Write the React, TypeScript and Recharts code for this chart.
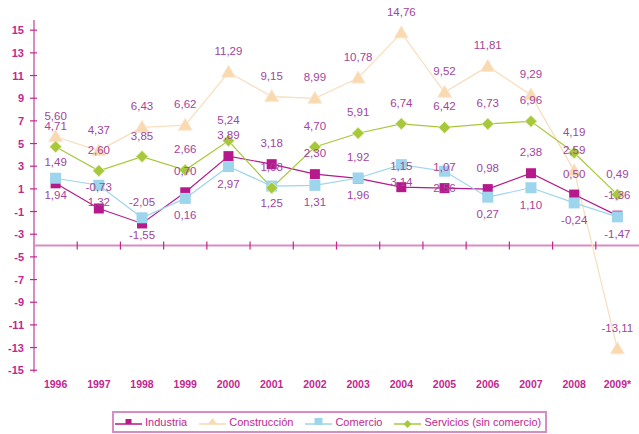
import React from 'react';
import { LineChart, Line, XAxis, YAxis, ReferenceLine, LabelList, Legend } from 'recharts';

const years = ['1996', '1997', '1998', '1999', '2000', '2001', '2002', '2003', '2004', '2005', '2006', '2007', '2008', '2009*'];
const industria = [1.49, -0.73, -2.05, 0.7, 3.89, 3.18, 2.3, 1.92, 1.15, 1.07, 0.98, 2.38, 0.5, -1.36];
const construccion = [5.6, 4.37, 6.43, 6.62, 11.29, 9.15, 8.99, 10.78, 14.76, 9.52, 11.81, 9.29, 2.59, -13.11];
const comercio = [1.94, 1.32, -1.55, 0.16, 2.97, 1.25, 1.31, 1.96, 3.14, 2.56, 0.27, 1.1, -0.24, -1.47];
const servicios = [4.71, 2.6, 3.85, 2.66, 5.24, 1.08, 4.7, 5.91, 6.74, 6.42, 6.73, 6.96, 4.19, 0.49];
const yTicks = [15, 13, 11, 9, 7, 5, 3, 1, -1, -3, -5, -7, -9, -11, -13, -15];
const crossAt = -4;

const data = years.map((y, i) => ({
  year: y,
  industria: industria[i],
  construccion: construccion[i],
  comercio: comercio[i],
  servicios: servicios[i],
}));

// category boundaries (edges between years) for the ticks on the crossing axis
const boundaryData = [...years, 'end'].map((_, k) => ({ b: `b${k}`, v: crossAt }));

const C_IND = '#b5198b';
const C_CON = '#f8d9b0';
const C_CONL = '#f9dfc0';
const C_COM = '#9dd5ec';
const C_SER = '#a8c83c';
const C_AXIS = '#c2278f';
const C_AXLINE = '#d98bc5';
const C_LABEL = '#a2459c';
const FONT = '"Liberation Sans", Arial, sans-serif';

const fmt = (v: number) => v.toFixed(2).replace('.', ',');

const squareDot = (size: number, color: string) => (p: any) => (
  <rect key={`d${p.index}`} x={p.cx - size / 2} y={p.cy - size / 2} width={size} height={size} fill={color} />
);
const triDot = (p: any) => (
  <path
    key={`t${p.index}`}
    d={`M${p.cx},${p.cy - 7} L${p.cx + 7},${p.cy + 5} L${p.cx - 7},${p.cy + 5} Z`}
    fill={C_CON}
    stroke="#fbe8d2"
    strokeWidth={1}
  />
);
const diaDot = (p: any) => (
  <path
    key={`m${p.index}`}
    d={`M${p.cx},${p.cy - 6} L${p.cx + 6},${p.cy} L${p.cx},${p.cy + 6} L${p.cx - 6},${p.cy} Z`}
    fill={C_SER}
    stroke="#e4efc0"
    strokeWidth={0.8}
  />
);
const tickDot = (p: any) => {
  if (p.index === 0 || p.index === boundaryData.length - 1) return <g key={`x${p.index}`} />;
  return <line key={`x${p.index}`} x1={p.cx} x2={p.cx} y1={p.cy - 4} y2={p.cy + 4} stroke={C_AXIS} strokeWidth={1.2} />;
};

const makeLabel = (offset: number) => (p: any) => (
  <text
    key={`l${p.index}`}
    x={p.x}
    y={p.y + offset}
    textAnchor="middle"
    dominantBaseline="central"
    fill={C_LABEL}
    fontSize={11.5}
    fontFamily={FONT}
  >
    {fmt(p.value)}
  </text>
);

const YTick = (p: any) => (
  <g>
    <line x1={p.x + 6} x2={p.x + 13} y1={p.y} y2={p.y} stroke={C_AXIS} strokeWidth={1.2} />
    <text x={p.x} y={p.y} textAnchor="end" dominantBaseline="central" fill={C_AXIS} fontSize={11} fontWeight="bold" fontFamily={FONT}>
      {p.payload.value}
    </text>
  </g>
);

const legendItems = [
  { name: 'Industria', color: C_IND, shape: 'sq' },
  { name: 'Construcción', color: C_CON, shape: 'tri' },
  { name: 'Comercio', color: C_COM, shape: 'sqb' },
  { name: 'Servicios (sin comercio)', color: C_SER, shape: 'dia' },
];

const LegendIcon = ({ color, shape }: { color: string; shape: string }) => (
  <svg width={27} height={14} style={{ display: 'block' }}>
    <line x1={0} x2={27} y1={9} y2={9} stroke={color} strokeWidth={1.5} />
    {shape === 'sq' && <rect x={10.5} y={4} width={6} height={5} fill={color} />}
    {shape === 'sqb' && <rect x={9.5} y={3} width={8} height={7} fill={color} />}
    {shape === 'tri' && <path d="M13.5,3 L18,9 L9,9 Z" fill={color} />}
    {shape === 'dia' && <path d="M13.5,5 L17.5,9 L13.5,13 L9.5,9 Z" fill={color} />}
  </svg>
);

const LegendBox = () => (
  <div
    style={{
      boxSizing: 'border-box',
      width: 435,
      height: 22,
      border: `2px solid ${C_AXLINE}`,
      display: 'flex',
      alignItems: 'center',
      paddingLeft: 1,
      fontFamily: FONT,
      fontSize: 11,
      color: C_AXIS,
    }}
  >
    {legendItems.map((it) => (
      <div key={it.name} style={{ display: 'flex', alignItems: 'center', marginRight: 12 }}>
        <LegendIcon color={it.color} shape={it.shape} />
        <span style={{ marginLeft: 3, whiteSpace: 'nowrap' }}>{it.name}</span>
      </div>
    ))}
  </div>
);

export default function App() {
  return (
    <div style={{ position: 'absolute', left: 0, top: 0, background: '#fff' }}>
      <LineChart width={639} height={434} data={data} margin={{ top: 20, right: 0, left: 0, bottom: 31.5 }}>
        <XAxis
          dataKey="year"
          scale="band"
          axisLine={false}
          tickLine={false}
          interval={0}
          tick={{ fill: C_AXIS, fontSize: 10.5, fontWeight: 'bold', fontFamily: FONT }}
        />
        <XAxis xAxisId="b" dataKey="b" type="category" scale="point" allowDuplicatedCategory={false} hide />
        <YAxis
          width={34}
          domain={[-15.2, 15.9]}
          ticks={yTicks}
          interval={0}
          tickSize={4}
          tickMargin={6}
          tickLine={false}
          axisLine={{ stroke: C_AXLINE, strokeWidth: 2 }}
          tick={<YTick />}
        />
        <ReferenceLine y={crossAt} stroke={C_AXLINE} strokeWidth={2} />
        <Line
          xAxisId="b"
          data={boundaryData}
          dataKey="v"
          stroke="none"
          dot={tickDot}
          activeDot={false}
          legendType="none"
          isAnimationActive={false}
        />
        <Line dataKey="construccion" stroke={C_CONL} strokeWidth={1.3} dot={triDot} isAnimationActive={false}>
          <LabelList dataKey="construccion" content={makeLabel(-21)} />
        </Line>
        <Line dataKey="industria" stroke={C_IND} strokeWidth={1.2} dot={squareDot(10, C_IND)} isAnimationActive={false}>
          <LabelList dataKey="industria" content={makeLabel(-21)} />
        </Line>
        <Line dataKey="comercio" stroke={C_COM} strokeWidth={1.2} dot={squareDot(11, C_COM)} isAnimationActive={false}>
          <LabelList dataKey="comercio" content={makeLabel(17)} />
        </Line>
        <Line dataKey="servicios" stroke={C_SER} strokeWidth={1.2} dot={diaDot} isAnimationActive={false}>
          <LabelList dataKey="servicios" content={makeLabel(-21)} />
        </Line>
        <Legend
          layout="vertical"
          align="center"
          verticalAlign="middle"
          content={<LegendBox />}
          wrapperStyle={{ position: 'absolute', left: 112, top: 411, width: 435, height: 22 }}
        />
      </LineChart>
    </div>
  );
}
